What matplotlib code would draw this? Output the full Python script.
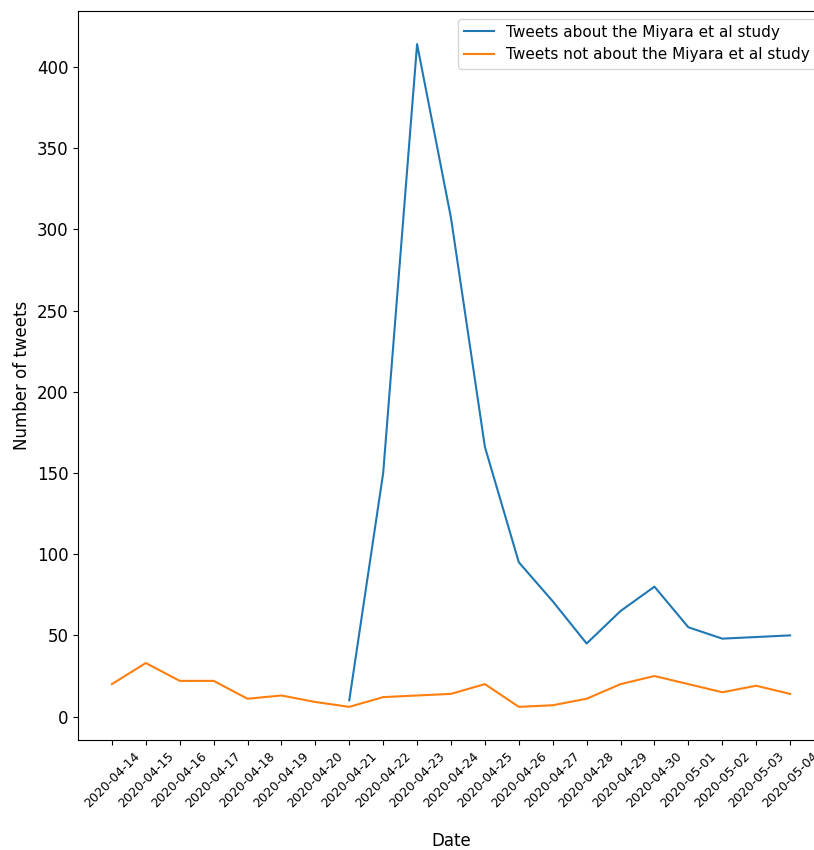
import matplotlib
matplotlib.use("Agg")
import matplotlib.pyplot as plt
import numpy as np

dates = ["2020-04-14", "2020-04-15", "2020-04-16", "2020-04-17", "2020-04-18",
         "2020-04-19", "2020-04-20", "2020-04-21", "2020-04-22", "2020-04-23",
         "2020-04-24", "2020-04-25", "2020-04-26", "2020-04-27", "2020-04-28",
         "2020-04-29", "2020-04-30", "2020-05-01", "2020-05-02", "2020-05-03",
         "2020-05-04"]

about_dates = dates[7:]
about_values = [10, 150, 414, 307, 166, 95, 71, 45, 65, 80, 55, 48, 49, 50]

not_about_values = [20, 33, 22, 22, 11, 13, 9, 6, 12, 13, 14, 20, 6, 7, 11,
                    20, 25, 20, 15, 19, 14]

fig = plt.figure(figsize=(8.14, 8.5), dpi=100)
ax = fig.add_axes([78 / 814, 110 / 850, (824 - 78) / 814, (740 - 11) / 850])

pos = {d: i for i, d in enumerate(dates)}
ax.plot([pos[d] for d in about_dates], about_values,
        label="Tweets about the Miyara et al study")
ax.plot([pos[d] for d in dates], not_about_values,
        label="Tweets not about the Miyara et al study")

ax.set_xticks(range(len(dates)))
ax.set_xticklabels(dates, rotation=45, fontsize=9)
ax.tick_params(axis="y", labelsize=12)
ax.set_xlabel("Date", fontsize=12, labelpad=16)
ax.set_ylabel("Number of tweets", fontsize=12)
ax.legend(loc="upper right", fontsize=11)

fig.savefig("out.png", dpi=100)
